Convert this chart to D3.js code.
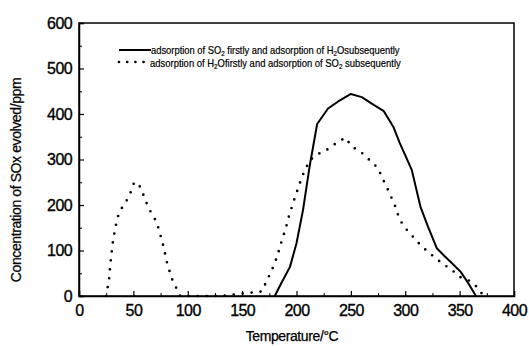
<!DOCTYPE html>
<html>
<head>
<meta charset="utf-8">
<script src="https://cdn.jsdelivr.net/npm/d3@7"></script>
<style>
  html, body { margin: 0; padding: 0; background: #fff; }
  svg { display: block; }
  text { font-family: "Liberation Sans", Arial, sans-serif; fill: #000; }
</style>
</head>
<body>
<svg id="chart" width="529" height="346"></svg>
<script>
// ---- data ----
const xTicks = [0, 50, 100, 150, 200, 250, 300, 350, 400];
const yTicks = [0, 100, 200, 300, 400, 500, 600];

// solid: adsorption of SO2 firstly, H2O subsequently
const solidT = [180, 186, 194, 200, 206, 212, 219, 229, 238, 250, 260, 271, 280, 289, 295, 306, 314, 321, 329, 336, 343, 351, 358, 365];
const solidV = [0, 28, 64, 116, 189, 284, 378, 412, 427, 444, 437, 420, 407, 372, 336, 277, 196, 152, 105, 88, 72, 53, 28, 0];

// dotted: adsorption of H2O firstly, SO2 subsequently
const dotT = [25, 26.4, 27.9, 28.5, 29.4, 30.3, 31.5, 33.1, 34.7, 37.1, 43.2, 47.5, 50.6, 54.5, 58.5, 61.6, 65.9, 70.8, 73.8, 76, 78.4, 80, 82.5, 85.2, 89.2, 93,
              130, 168, 172, 177, 182, 186, 190, 193, 196, 199, 202, 205, 212, 220, 229, 237, 245, 251, 259, 267, 275, 279, 283, 287, 291, 294, 298, 305, 312, 319, 327, 335, 343, 350, 358, 366, 372];
const dotV = [0, 20, 41, 62, 82, 103, 125, 145, 165, 185, 207, 228, 249, 248, 227, 207, 185, 165, 144, 123, 103, 81, 61, 39, 19, 0,
              0, 10, 30, 55, 85, 118, 148, 175, 198, 220, 240, 262, 298, 312, 323, 337, 348, 328, 317, 299, 281, 259, 239, 218, 196, 174, 155, 136, 117, 101, 85, 70, 57, 42, 35, 20, 0];

const legendLabels = [
  [{t: "adsorption of SO"}, {t: "2", sub: true}, {t: " firstly and adsorption of H"}, {t: "2", sub: true}, {t: "Osubsequently"}],
  [{t: "adsorption of H"}, {t: "2", sub: true}, {t: "Ofirstly and adsorption of SO"}, {t: "2", sub: true}, {t: " subsequently"}]
];

// ---- layout ----
const mLeft = 79, mRight = 514, mTop = 23, mBottom = 296;
const svg = d3.select("#chart");

const x = d3.scaleLinear().domain([0, 400]).range([mLeft, mRight]);
const y = d3.scaleLinear().domain([0, 600]).range([mBottom, mTop]);

// frame
svg.append("rect").attr("x", mLeft).attr("y", mTop)
  .attr("width", mRight - mLeft).attr("height", mBottom - mTop)
  .attr("fill", "none").attr("stroke", "#000").attr("stroke-width", 1.5);

// x axis (ticks inward)
const xAxis = d3.axisBottom(x).tickValues(xTicks).tickSize(-5).tickPadding(9).tickFormat(d3.format("d"));
const gx = svg.append("g").attr("transform", `translate(0,${mBottom})`).call(xAxis);
gx.select(".domain").attr("stroke-width", 1.5);
gx.selectAll(".tick line").attr("stroke-width", 1.2);
gx.selectAll(".tick text").attr("font-size", 16).attr("letter-spacing", -0.6)
  .attr("stroke", "#000").attr("stroke-width", 0.35)
  .style("font-family", "'Liberation Sans', Arial, sans-serif");
const xMinor = d3.axisBottom(x).tickValues(d3.range(25, 400, 50)).tickSize(-3).tickFormat("");
const gxm = svg.append("g").attr("transform", `translate(0,${mBottom})`).call(xMinor);
gxm.select(".domain").remove();

// y axis
const yAxis = d3.axisLeft(y).tickValues(yTicks).tickSize(-5).tickPadding(7).tickFormat(d3.format("d"));
const gy = svg.append("g").attr("transform", `translate(${mLeft},0)`).call(yAxis);
gy.select(".domain").attr("stroke-width", 1.5);
gy.selectAll(".tick line").attr("stroke-width", 1.2);
gy.selectAll(".tick text").attr("font-size", 16).attr("letter-spacing", -0.6)
  .attr("stroke", "#000").attr("stroke-width", 0.35)
  .style("font-family", "'Liberation Sans', Arial, sans-serif");
const yMinor = d3.axisLeft(y).tickValues(d3.range(50, 600, 100)).tickSize(-3).tickFormat("");
const gym = svg.append("g").attr("transform", `translate(${mLeft},0)`).call(yMinor);
gym.select(".domain").remove();

// axis titles
svg.append("text").attr("x", 292).attr("y", 341).attr("text-anchor", "middle")
  .attr("font-size", 14).attr("letter-spacing", -0.4)
  .attr("stroke", "#000").attr("stroke-width", 0.25).text("Temperature/°C");
svg.append("text").attr("transform", "translate(21,180) rotate(-90)").attr("text-anchor", "middle")
  .attr("font-size", 14).attr("letter-spacing", -0.4)
  .attr("stroke", "#000").attr("stroke-width", 0.25).text("Concentration of SOx evolved/ppm");

// curves
const line = d3.line().x(d => x(d[0])).y(d => y(d[1]));
svg.append("path").datum(solidT.map((t, i) => [t, solidV[i]]))
  .attr("d", line).attr("fill", "none").attr("stroke", "#000")
  .attr("stroke-width", 2).attr("stroke-linejoin", "round");
svg.append("path").datum(dotT.map((t, i) => [t, dotV[i]]))
  .attr("d", line).attr("fill", "none").attr("stroke", "#000")
  .attr("stroke-width", 2.7).attr("stroke-linecap", "round")
  .attr("stroke-dasharray", "0,9");

// legend
const lg = svg.append("g");
lg.append("line").attr("x1", 119).attr("x2", 151).attr("y1", 50).attr("y2", 50)
  .attr("stroke", "#000").attr("stroke-width", 2);
lg.append("line").attr("x1", 119).attr("x2", 144).attr("y1", 62).attr("y2", 62)
  .attr("stroke", "#000").attr("stroke-width", 2.7).attr("stroke-linecap", "round")
  .attr("stroke-dasharray", "0,8.2");
const rowX = [151, 150], rowY = [53.5, 66.5], rowW = [249, 251];
legendLabels.forEach((parts, i) => {
  const g = lg.append("g");
  const t = g.append("text").attr("x", 0).attr("y", 0).attr("font-size", 10.5)
    .attr("stroke", "#000").attr("stroke-width", 0.2);
  parts.forEach((p, j) => {
    const s = t.append("tspan").text(p.t);
    if (p.sub) s.attr("font-size", 7).attr("dy", 2);
    else if (j > 0 && parts[j - 1].sub) s.attr("dy", -2);
  });
  const w = t.node().getComputedTextLength();
  g.attr("transform", `translate(${rowX[i]},${rowY[i]}) scale(${rowW[i] / w},1)`);
});
</script>
</body>
</html>
